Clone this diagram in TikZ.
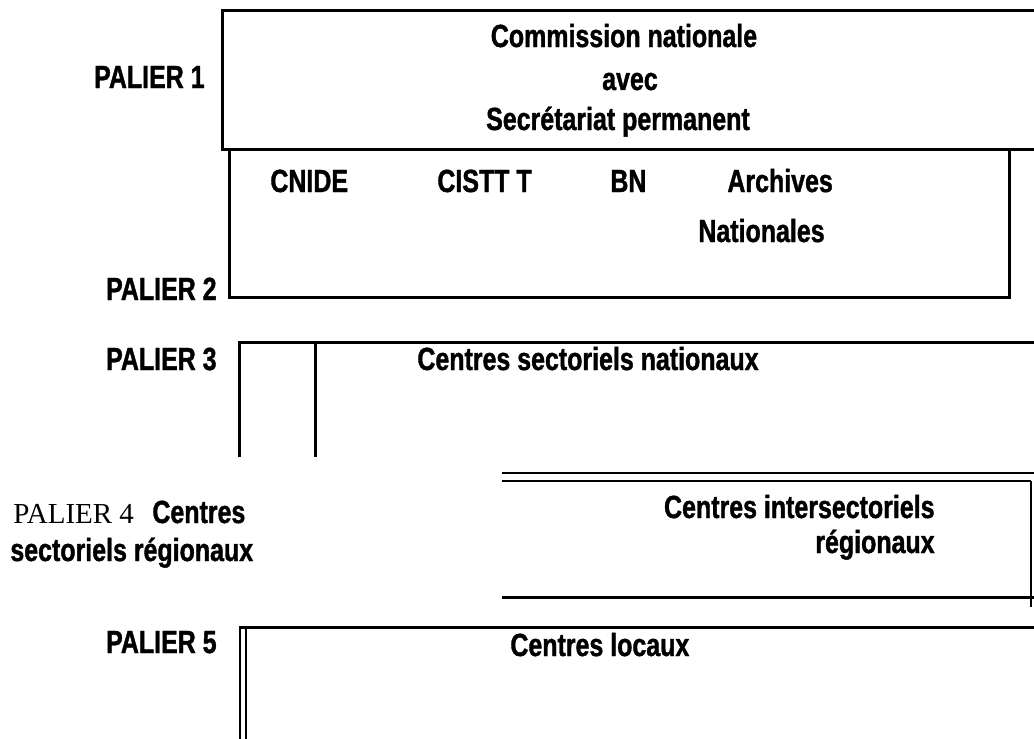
\documentclass[tikz,border=0pt]{standalone}
\usepackage{fontspec}
\setmainfont{Liberation Serif}
\newfontfamily\palierfont[FakeStretch=0.78, BoldFeatures={FakeBold=1.2}]{Liberation Sans}
\usetikzlibrary{positioning}

\tikzset{
  titre/.style={font=\palierfont\bfseries\fontsize{16}{19}\selectfont, inner sep=0pt},
  romain/.style={font=\fontsize{14.5}{17}\selectfont, inner sep=0pt},
  cadre/.style={line width=1.5pt},
  filet/.style={line width=0.75pt},
}

\begin{document}
\begin{tikzpicture}[x=0.5pt,y=-0.5pt]
\useasboundingbox (0,0) rectangle (1034,739);

%====================================================
% PALIER 1 : Commission nationale
%====================================================
\draw[cadre] (1034,10) -- (222,10) -- (222,149) -- (1034,149);
\node[titre, anchor=base east] (p1) at (205,88) {PALIER 1};
\node[titre, anchor=base] (cn) at (624,47) {Commission nationale};
\node[titre, anchor=base] (avec) at (630,90) {avec};
\node[titre, anchor=base] (sp) at (618,130) {Secrétariat permanent};

%====================================================
% PALIER 2
%====================================================
\draw[cadre] (229,149) -- (229,297) -- (1009,297) -- (1009,149);
\node[titre, anchor=base east] (p2) at (217,300) {PALIER 2};
\node[titre, anchor=base west] (cnide) at (270,192) {CNIDE};
\node[titre, anchor=base west] (cistt) at (437,192) {CISTT T};
\node[titre, anchor=base west] (bn) at (610,192) {BN};
\node[titre, anchor=base west] (arch) at (727,192) {Archives};
\node[titre, anchor=base west] (natio) at (698,242) {Nationales};

%====================================================
% PALIER 3
%====================================================
\draw[cadre] (239,457) -- (239,342) -- (1034,342);
\draw[cadre] (315,342) -- (315,457);
\node[titre, anchor=base east] (p3) at (217,370) {PALIER 3};
\node[titre, anchor=base west] (csn) at (417,370) {Centres sectoriels nationaux};

%====================================================
% PALIER 4
%====================================================
\draw[line width=1.3pt] (502,473) -- (1034,473);
\draw[line width=1.2pt] (502,481) -- (1031,481);
\draw[cadre] (502,597) -- (1034,597);
\draw[line width=1pt] (1031,481) -- (1031,607);
\node[romain, anchor=base west] (p4) at (13,523) {PALIER 4};
\node[titre, anchor=base west] (csr) at (152,523) {Centres};
\node[titre, anchor=base west] (csr2) at (10,561) {sectoriels régionaux};
\node[titre, anchor=base east] (cir) at (935,518) {Centres intersectoriels};
\node[titre, anchor=base east] (cir2) at (935,553) {régionaux};

%====================================================
% PALIER 5
%====================================================
\draw[cadre] (239,627) -- (1034,627);
\draw[filet] (240,627) -- (240,739);
\draw[filet] (246,627) -- (246,739);
\node[titre, anchor=base east] (p5) at (217,653) {PALIER 5};
\node[titre, anchor=base west] (cl) at (510,656) {Centres locaux};
\end{tikzpicture}
\end{document}
